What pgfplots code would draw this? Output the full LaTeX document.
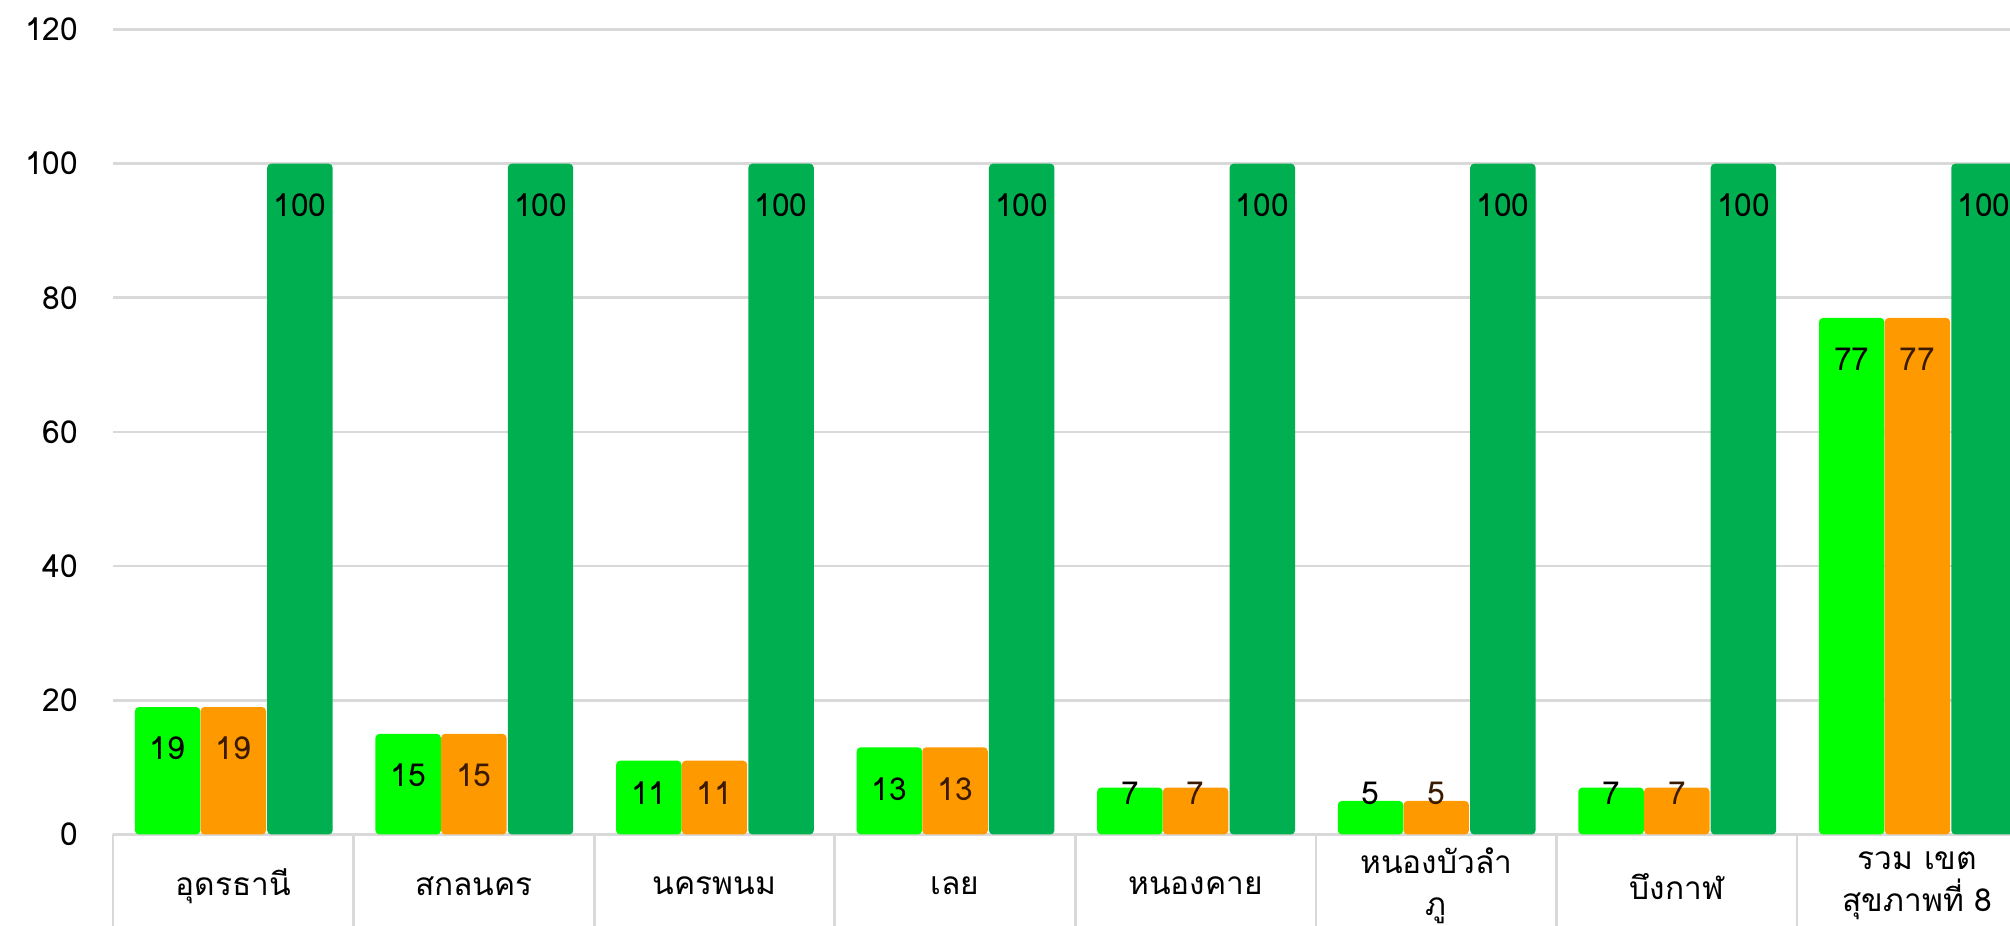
\documentclass[border=0pt]{standalone}
\usepackage{fontspec}
\setmainfont{Loma}[Script=Thai]
\usepackage{pgfplots}
\pgfplotsset{compat=1.18}
\usepackage{pgfplotstable}
\definecolor{lgreen}{HTML}{00FF00}
\definecolor{orng}{HTML}{FF9900}
\definecolor{dgreen}{HTML}{00B050}
\definecolor{gridc}{HTML}{D9D9D9}
\definecolor{brownlab}{HTML}{3A1A00}

\pgfplotstableread{
x a b c
0 19 19 100
1 15 15 100
2 11 11 100
3 13 13 100
4 7 7 100
5 5 5 100
6 7 7 100
7 77 77 100
}\data

\begin{document}
\begin{tikzpicture}
\path[use as bounding box] (-33.9pt,-27.45pt) rectangle (569.1pt,250.35pt);
\clip (-33.9pt,-27.45pt) rectangle (569.1pt,250.35pt);
\begin{axis}[
  at={(0,0)}, anchor=south west,
  scale only axis, width=569.1pt, height=241.5pt,
  xmin=-0.5, xmax=7.385, ymin=0, ymax=120,
  clip=false,
  axis x line*=bottom, axis y line*=left,
  y axis line style={draw=none},
  x axis line style={gridc, line width=0.8pt, -},
  ytick={0,20,...,120},
  ymajorgrids, grid style={gridc, line width=0.8pt},
  major tick length=0pt,
  xtick={0,...,7},
  minor xtick={-0.5,0.5,...,7.5},
  tick align=outside,
  minor tick length=40pt,
  minor tick style={gridc, line width=0.8pt},
  xticklabels={อุดรธานี,สกลนคร,นครพนม,เลย,หนองคาย,{หนองบัวลำ\\ภู},บึงกาฬ,{รวม เขต\\สุขภาพที่ 8}},
  xticklabel style={align=center, anchor=center, yshift=-15.5pt, font=\fontsize{9.5}{12.6}\selectfont},
  yticklabel style={xshift=-7pt, font=\fontsize{9.5}{12}\selectfont},
  /pgf/number format/assume math mode=true,
  every node near coord/.append style={anchor=center, font=\fontsize{9.5}{12}\selectfont},
]
\addplot[ybar, bar width=0.272, bar shift=-0.273, fill=lgreen, draw=none, rounded corners=1.2pt] table[x=x,y=a]{\data};
\addplot[ybar, bar width=0.272, bar shift=0, fill=orng, draw=none, rounded corners=1.2pt] table[x=x,y=b]{\data};
\addplot[ybar, bar width=0.272, bar shift=0.277, fill=dgreen, draw=none, rounded corners=1.2pt] table[x=x,y=c]{\data};
\addplot[draw=none, mark=none, nodes near coords, point meta=explicit, every node near coord/.append style={text=black}]
  table[x expr=\thisrow{x}-0.273, y expr={max(\thisrow{a}-6.2,6.1)}, meta=a]{\data};
\addplot[draw=none, mark=none, nodes near coords, point meta=explicit, every node near coord/.append style={text=brownlab}]
  table[x expr=\thisrow{x}, y expr={max(\thisrow{b}-6.2,6.1)}, meta=b]{\data};
\addplot[draw=none, mark=none, nodes near coords, point meta=explicit, every node near coord/.append style={text=black}]
  table[x expr=\thisrow{x}+0.277, y expr={max(\thisrow{c}-6.2,6.1)}, meta=c]{\data};
\end{axis}
\end{tikzpicture}
\end{document}
